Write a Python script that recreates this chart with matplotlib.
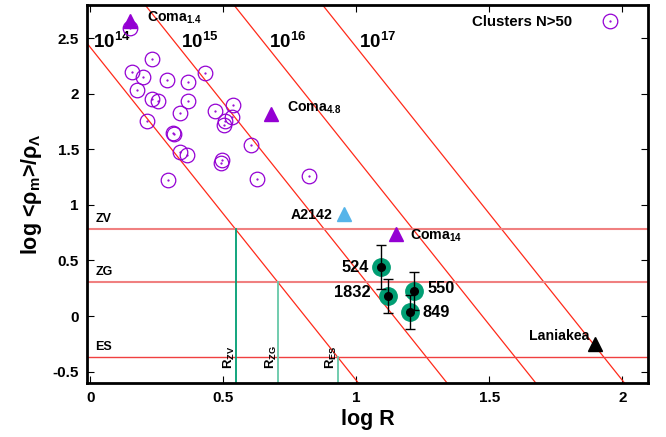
import matplotlib
matplotlib.use("Agg")
import matplotlib.pyplot as plt
from matplotlib.legend_handler import HandlerTuple
import numpy as np

plt.rcParams['font.family'] = ['Liberation Sans', 'DejaVu Sans']
plt.rcParams['font.weight'] = 'bold'
plt.rcParams['mathtext.fontset'] = 'custom'
plt.rcParams['mathtext.rm'] = 'Liberation Sans:bold'
plt.rcParams['mathtext.it'] = 'Liberation Sans:bold'
plt.rcParams['mathtext.bf'] = 'Liberation Sans:bold'
plt.rcParams['mathtext.sf'] = 'Liberation Sans:bold'

# ---- data ----
cluster_logR = [0.150, 0.232, 0.157, 0.197, 0.287, 0.366, 0.432, 0.177, 0.232, 0.253,
                0.367, 0.337, 0.470, 0.535, 0.533, 0.508, 0.501, 0.212, 0.310, 0.314,
                0.605, 0.337, 0.365, 0.497, 0.490, 0.291, 0.627, 0.824]
cluster_logrho = [2.594, 2.313, 2.196, 2.148, 2.127, 2.103, 2.192, 2.034, 1.953, 1.938,
                  1.932, 1.830, 1.842, 1.902, 1.792, 1.752, 1.716, 1.752, 1.645, 1.640,
                  1.543, 1.474, 1.453, 1.402, 1.378, 1.225, 1.237, 1.258]

tri_names = ['Coma$_{1.4}$', 'Coma$_{4.8}$', 'A2142', 'Coma$_{14}$', 'Laniakea']
tri_logR = [0.150, 0.679, 0.952, 1.149, 1.897]
tri_logrho = [2.655, 1.818, 0.914, 0.740, -0.254]
tri_colors = ['#9400D3', '#9400D3', '#56B4E9', '#9400D3', '#000000']

sc_names = ['524', '1832', '550', '849']
sc_logR = [1.093, 1.118, 1.218, 1.203]
sc_logrho = [0.440, 0.177, 0.225, 0.036]
sc_err = [0.200, 0.152, 0.175, 0.150]

mass_logs = [14, 15, 16, 17]
mass_offset = 11.58  # log rho = log M - offset - 3 log R

level_names = ['ZV', 'ZG', 'ES']
level_values = [0.78, 0.305, -0.37]

# ---- figure ----
fig = plt.figure(figsize=(6.66, 4.37), dpi=100)
ax = fig.add_axes([0.131, 0.1243, 0.9734 - 0.131, 0.9886 - 0.1243])
xmin, xmax, ymin, ymax = -0.011, 2.097, -0.6, 2.8
ax.set_xlim(xmin, xmax)
ax.set_ylim(ymin, ymax)

# diagonal constant-mass lines
xs = np.array([xmin, xmax])
for lm in mass_logs:
    ax.plot(xs, (lm - mass_offset) - 3 * xs, color='#ff2a1a', lw=0.9, zorder=2)

# horizontal levels
level_styles = [('#f08080', 1.5), ('#f08080', 1.5), ('#f04040', 1.0)]
for v, (c, w) in zip(level_values, level_styles):
    ax.axhline(v, color=c, lw=w, zorder=2)

# vertical R lines
vcolors = ['#009E73', '#66c8a8', '#66c8a8']
a0 = mass_logs[0] - mass_offset
for name, v, c in zip(level_names, level_values, vcolors):
    xr = (a0 - v) / 3.0
    ax.plot([xr, xr], [ymin, v], color=c, lw=1.3, zorder=2)
    ax.text(xr - 0.025, -0.48, 'R$_{%s}$' % name, rotation=90, ha='center', va='bottom',
            fontsize=9.5, fontweight='bold')
    ax.text(0.02, v + 0.09, name, ha='left', va='center', fontsize=9, fontweight='bold')

# mass labels
mass_label_x = [0.08, 0.41, 0.74, 1.08]
for lm, lx in zip(mass_logs, mass_label_x):
    ax.text(lx, 2.47, '10$^{%d}$' % lm, ha='center', va='center', fontsize=13.5, fontweight='bold')

# clusters
h_ring, = ax.plot(cluster_logR, cluster_logrho, 'o', mfc='none', mec='#9400D3', ms=10.5,
                  mew=0.9, ls='none', zorder=3)
h_dot, = ax.plot(cluster_logR, cluster_logrho, '.', color='#9400D3', ms=1.2, ls='none', zorder=3)

# triangles
for n, x, y, c in zip(tri_names, tri_logR, tri_logrho, tri_colors):
    ax.plot(x, y, '^', color=c, ms=10.5, zorder=5)
tri_text = [(0.214, 2.684, 'left'), (0.741, 1.875, 'left'), (0.912, 0.905, 'right'),
            (1.200, 0.719, 'left'), (1.878, -0.182, 'right')]
for n, (tx, ty, ha) in zip(tri_names, tri_text):
    ax.text(tx, ty, n, ha=ha, va='center', fontsize=10.2, fontweight='bold')

# superclusters with error bars
ax.plot(sc_logR, sc_logrho, 'o', color='#009E73', ms=12.5, ls='none', zorder=4)
ax.errorbar(sc_logR, sc_logrho, yerr=sc_err, fmt='none', ecolor='black', elinewidth=1,
            capsize=3.5, capthick=1, zorder=5)
ax.plot(sc_logR, sc_logrho, 'o', color='black', ms=5.5, ls='none', zorder=6)
sc_text = [(1.046, 0.440, 'right'), (1.054, 0.216, 'right'), (1.269, 0.249, 'left'),
           (1.250, 0.036, 'left')]
for n, (tx, ty, ha) in zip(sc_names, sc_text):
    ax.text(tx, ty, n, ha=ha, va='center', fontsize=11.8, fontweight='bold')

# legend
leg = ax.legend([(h_ring, h_dot)], ['Clusters N>50'], handler_map={tuple: HandlerTuple(ndivide=1, pad=0)},
                loc='upper right', frameon=False, markerfirst=False, fontsize=10.8,
                handlelength=1.0, handletextpad=2.0, borderaxespad=0.3,
                bbox_to_anchor=(0.963, 1.0))
for t in leg.get_texts():
    t.set_fontweight('bold')

# axes styling
ax.set_xticks([0, 0.5, 1, 1.5, 2])
ax.set_xticklabels(['0', '0.5', '1', '1.5', '2'])
ax.set_yticks([-0.5, 0, 0.5, 1, 1.5, 2, 2.5])
ax.set_yticklabels(['-0.5', '0', '0.5', '1', '1.5', '2', '2.5'])
ax.tick_params(direction='in', top=True, right=True, length=5, width=0.8,
               labelsize=11, pad=6)
for lbl in ax.get_xticklabels() + ax.get_yticklabels():
    lbl.set_fontweight('bold')
for s in ax.spines.values():
    s.set_linewidth(2.0)
ax.set_xlabel('log R', fontsize=15.5, fontweight='bold', labelpad=3)
ax.set_ylabel(r'log <$\rho_{m}$>/$\rho_{\Lambda}$', fontsize=15.5, fontweight='bold', labelpad=6)

fig.savefig('out.png', dpi=100)
